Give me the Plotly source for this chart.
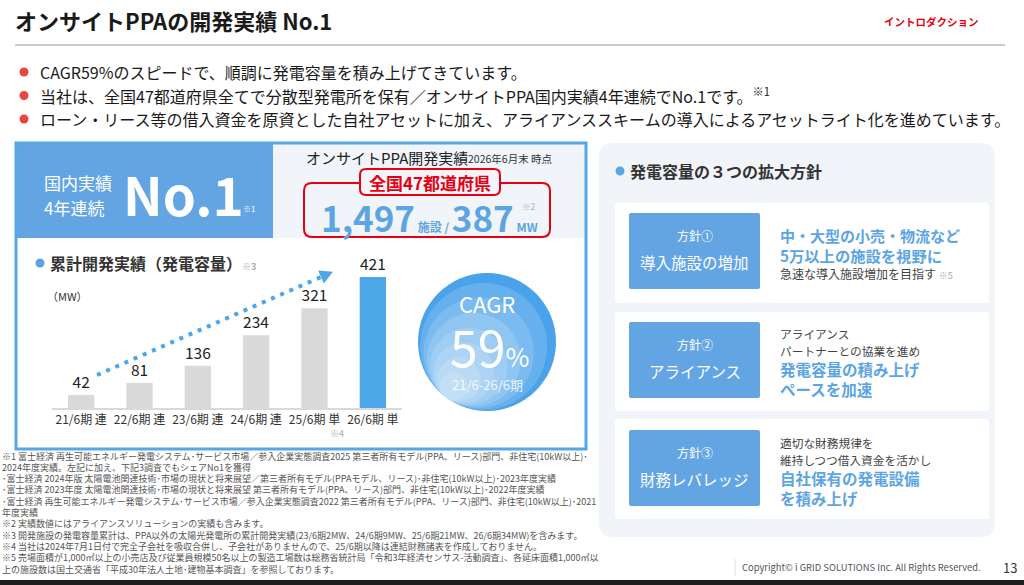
"""オンサイトPPAの開発実績 No.1 — スライド再現 (Plotly)."""
import math

import plotly.graph_objects as go

W, H = 1024, 585
FONT = "Noto Sans CJK JP"

# ---------------------------------------------------------------------------
# データ
# ---------------------------------------------------------------------------
periods = ["21/6期 連", "22/6期 連", "23/6期 連", "24/6期 連", "25/6期 単", "26/6期 単"]
capacity_mw = [42, 81, 136, 234, 321, 421]

bullets = [
    "CAGR59%のスピードで、順調に発電容量を積み上げてきています。",
    "当社は、全国47都道府県全てで分散型発電所を保有／オンサイトPPA国内実績4年連続でNo.1です。<sup>※1</sup>",
    "ローン・リース等の借入資金を原資とした自社アセットに加え、アライアンススキームの導入によるアセットライト化を進めています。",
]

policy_heads = ["方針①", "方針②", "方針③"]
policy_names = ["導入施設の増加", "アライアンス", "財務レバレッジ"]

footnotes = [
    "※1 富士経済 再生可能エネルギー発電システム･サービス市場／参入企業実態調査2025 第三者所有モデル(PPA、リース)部門、非住宅(10kW以上)･",
    "2024年度実績。左記に加え、下記3調査でもシェアNo1を獲得",
    "･富士経済 2024年版 太陽電池関連技術･市場の現状と将来展望／第三者所有モデル(PPAモデル、リース)･非住宅(10kW以上)･2023年度実績",
    "･富士経済 2023年度 太陽電池関連技術･市場の現状と将来展望 第三者所有モデル(PPA、リース)部門、非住宅(10kW以上)･2022年度実績",
    "･富士経済 再生可能エネルギー発電システム･サービス市場／参入企業実態調査2022 第三者所有モデル(PPA、リース)部門、非住宅(10kW以上)･2021",
    "年度実績",
    "※2 実績数値にはアライアンスソリューションの実績も含みます。",
    "※3 開発施設の発電容量累計は、PPA以外の太陽光発電所の累計開発実績(23/6期2MW、24/6期9MW、25/6期21MW、26/6期34MW)を含みます。",
    "※4 当社は2024年7月1日付で完全子会社を吸収合併し、子会社がありませんので、25/6期以降は連結財務諸表を作成しておりません。",
    "※5 売場面積が1,000㎡以上の小売店及び従業員規模50名以上の製造工場数は総務省統計局「令和3年経済センサス-活動調査」、各延床面積1,000㎡以",
    "上の施設数は国土交通省「平成30年法人土地･建物基本調査」を参照しております。",
]

BLUE = "#5DA5E2"
BOX_BLUE = "#63A5E3"
BAR_GRAY = "#D9D9D9"
BAR_BLUE = "#4DA6E8"
RED = "#E60012"
PANEL = "#F1F4F9"


# ---------------------------------------------------------------------------
# helper: pixel -> paper
# ---------------------------------------------------------------------------
def X(px):
    return px / W


def Y(py):
    return 1 - py / H


shapes = []
annotations = []


def rect(x0, y0, x1, y1, fill="rgba(0,0,0,0)", line="rgba(0,0,0,0)", lw=0):
    shapes.append(dict(type="rect", xref="paper", yref="paper",
                       x0=X(x0), x1=X(x1), y0=Y(y1), y1=Y(y0),
                       fillcolor=fill, line=dict(color=line, width=lw),
                       layer="below"))


def rrect(x0, y0, x1, y1, r, fill="rgba(0,0,0,0)", line="rgba(0,0,0,0)", lw=0):
    p = lambda x, y: f"{X(x):.5f},{Y(y):.5f}"
    path = (f"M {p(x0 + r, y0)} L {p(x1 - r, y0)} Q {p(x1, y0)} {p(x1, y0 + r)} "
            f"L {p(x1, y1 - r)} Q {p(x1, y1)} {p(x1 - r, y1)} "
            f"L {p(x0 + r, y1)} Q {p(x0, y1)} {p(x0, y1 - r)} "
            f"L {p(x0, y0 + r)} Q {p(x0, y0)} {p(x0 + r, y0)} Z")
    shapes.append(dict(type="path", path=path, xref="paper", yref="paper",
                       fillcolor=fill, line=dict(color=line, width=lw),
                       layer="below"))


def circle(cx, cy, r, fill, opacity=1.0):
    shapes.append(dict(type="circle", xref="paper", yref="paper",
                       x0=X(cx - r), x1=X(cx + r), y0=Y(cy + r), y1=Y(cy - r),
                       fillcolor=fill, line=dict(width=0), opacity=opacity,
                       layer="below"))


def text(x, y, s, size, color="#333333", anchor="left", weight="normal"):
    annotations.append(dict(x=X(x), y=Y(y), xref="paper", yref="paper",
                            text=s, showarrow=False, xanchor=anchor,
                            yanchor="middle", borderpad=0,
                            font=dict(family=FONT, size=size, color=color,
                                      weight=weight)))


# ---------------------------------------------------------------------------
# ヘッダー
# ---------------------------------------------------------------------------
text(14, 20, "オンサイトPPAの開発実績 No.1", 22, "#1A1A1A", weight="bold")
text(883, 22, "イントロダクション", 10.5, RED, weight="bold")
shapes.append(dict(type="line", xref="paper", yref="paper",
                   x0=X(15), x1=X(1005), y0=Y(45), y1=Y(45),
                   line=dict(color="#CCCCCC", width=2), layer="below"))

for i, b in enumerate(bullets):
    yy = 72 + i * 23.5
    circle(24, yy, 4.5, "#E8473F")
    text(39, yy, b, 16, "#1A1A1A")

# ---------------------------------------------------------------------------
# 左パネル
# ---------------------------------------------------------------------------
rect(16, 143, 586, 449, fill="white")
rect(16, 143, 273, 238, fill=BOX_BLUE)
rect(273, 143, 586, 238, fill=PANEL)
rect(16, 143, 586, 449, line="#55A7EC", lw=3)

text(43, 182, "国内実績", 17, "white")
text(43, 207, "4年連続", 17, "white")
text(122, 193, "No.1", 53, "white", weight="bold")
text(242, 208, "※1", 8, "white")

text(305, 158, "オンサイトPPA開発実績", 15, "#222222")
text(467, 159, "2026年6月末 時点", 10.5, "#333333")

rrect(304, 183, 550, 237, 8, line=RED, lw=2)
rrect(360, 169, 500, 195, 6, fill=PANEL, line=RED, lw=2)
text(430, 182, "全国47都道府県", 17, RED, anchor="center", weight="bold")
text(320, 216,
     "1,497<span style='font-size:12px'> 施設 / </span>387"
     "<span style='font-size:12px'> MW</span>",
     35, BLUE, weight="bold")
text(521, 206, "※2", 8.5, "#A8B4C4")

# chart title
circle(40, 263, 4.5, BLUE)
text(49, 263, "累計開発実績（発電容量）<span style='font-size:9px;fill:#AAAAAA'>※3</span>",
     16, "#333333", weight="bold")
text(46, 296, "（MW）", 11, "#333333")
text(337, 433, "※4", 9, "#AAAAAA", anchor="center")

# 点線矢印
ax0, ay0, ax1, ay1 = 97, 375, 321, 277
shapes.append(dict(type="line", xref="paper", yref="paper",
                   x0=X(ax0), y0=Y(ay0), x1=X(ax1), y1=Y(ay1),
                   line=dict(color=BAR_BLUE, width=4, dash="4px,6px"),
                   layer="below"))
L = math.hypot(ax1 - ax0, ay1 - ay0)
dx, dy = (ax1 - ax0) / L, (ay1 - ay0) / L
nx, ny = -dy, dx
tip = (ax1 + 13 * dx, ay1 + 13 * dy)
b1 = (ax1 + 7 * nx, ay1 + 7 * ny)
b2 = (ax1 - 7 * nx, ay1 - 7 * ny)
shapes.append(dict(type="path", xref="paper", yref="paper",
                   path=(f"M {X(tip[0])},{Y(tip[1])} L {X(b1[0])},{Y(b1[1])} "
                         f"L {X(b2[0])},{Y(b2[1])} Z"),
                   fillcolor=BAR_BLUE, line=dict(width=0), layer="below"))

# CAGR circle (グラデーション風)
cx, cy, cr = 487, 342, 69
circle(cx, cy, cr, "#4AA3EA")
px_, py_ = cx - 0.6 * cr, cy + 0.8 * cr
for k in [0.92, 0.8, 0.68, 0.56, 0.44, 0.32, 0.2]:
    circle(px_ + (cx - px_) * k, py_ + (cy - py_) * k, cr * k, "white", 0.15)
text(cx, 303, "CAGR", 22, "white", anchor="center")
text(cx + 2, 345, "59<span style='font-size:26px'>%</span>", 50, "white", anchor="center")
text(cx, 384, "21/6-26/6期", 13, "rgba(255,255,255,0.85)", anchor="center")

# ---------------------------------------------------------------------------
# 右パネル
# ---------------------------------------------------------------------------
rrect(599, 143, 995, 537, 14, fill=PANEL)
circle(620, 171, 4.5, BLUE)
text(629, 171, "発電容量の３つの拡大方針", 16, "#333333", weight="bold")

cards = [(203, 303), (312, 411), (419, 519)]
boxes = [(213, 289), (322, 398), (430, 506)]
for (c0, c1), (b0, b1_), head, name in zip(cards, boxes, policy_heads, policy_names):
    rrect(615, c0, 989, c1, 3, fill="white")
    rrect(629, b0, 760, b1_, 2, fill=BOX_BLUE)
    mid = (b0 + b1_) / 2
    text(694.5, mid - 16, head, 12, "white", anchor="center")
    text(694.5, mid + 11, name, 15.5, "white", anchor="center")

GRAY_TXT = "#444444"
text(779, 235, "中・大型の小売・物流など", 15, BLUE, weight="bold")
text(779, 255, "5万以上の施設を視野に", 15.3, BLUE, weight="bold")
text(779, 273, "急速な導入施設増加を目指す <span style='font-size:9px;fill:#AAAAAA'>※5</span>",
     12, GRAY_TXT)

text(779, 333, "アライアンス", 11.7, GRAY_TXT)
text(779, 350, "パートナーとの協業を進め", 11.7, GRAY_TXT)
text(779, 369, "発電容量の積み上げ", 15.5, BLUE, weight="bold")
text(779, 389, "ペースを加速", 15.5, BLUE, weight="bold")

text(779, 442, "適切な財務規律を", 11.7, GRAY_TXT)
text(779, 459, "維持しつつ借入資金を活かし", 11.7, GRAY_TXT)
text(779, 478, "自社保有の発電設備", 15.5, BLUE, weight="bold")
text(779, 498, "を積み上げ", 15.5, BLUE, weight="bold")

# ---------------------------------------------------------------------------
# 注記・フッター
# ---------------------------------------------------------------------------
for i, fn in enumerate(footnotes):
    text(1, 456 + i * 11.3, fn, 9.0, "#555555")

shapes.append(dict(type="line", xref="paper", yref="paper",
                   x0=X(735), x1=X(735), y0=Y(559), y1=Y(576),
                   line=dict(color="#DDDDDD", width=1), layer="below"))
text(741, 567, "Copyright© i GRID SOLUTIONS Inc. All Rights Reserved.", 9.4, "#555555")
text(1002, 567, "13", 13, "#333333")
rect(0, 580, W, H, fill="#1E1E1E")

# ---------------------------------------------------------------------------
# 棒グラフ
# ---------------------------------------------------------------------------
bar_colors = [BAR_GRAY] * (len(capacity_mw) - 1) + [BAR_BLUE]

fig = go.Figure(go.Bar(
    x=periods, y=capacity_mw,
    marker=dict(color=bar_colors, line=dict(width=0)),
    text=capacity_mw, textposition="outside", cliponaxis=False,
    textfont=dict(family=FONT, size=15.5, color="#222222"),
    hoverinfo="skip",
))

fig.update_layout(
    width=W, height=H,
    margin=dict(l=0, r=0, t=0, b=0),
    paper_bgcolor="white",
    plot_bgcolor="rgba(0,0,0,0)",
    font=dict(family=FONT),
    showlegend=False,
    bargap=0.55,
    shapes=shapes,
    annotations=annotations,
    xaxis=dict(domain=[X(52), X(402)], type="category",
               showgrid=False, zeroline=False, ticks="",
               showline=True, linecolor="#D9D9D9", linewidth=2,
               tickfont=dict(family=FONT, size=12, color="#333333"),
               fixedrange=True),
    yaxis=dict(domain=[Y(408), Y(250)], range=[0, 508],
               visible=False, fixedrange=True),
)

fig.write_html("out.html",
               config={"displayModeBar": False},
               post_script="document.body.style.margin='0';"
                           "document.body.style.overflow='hidden';")
